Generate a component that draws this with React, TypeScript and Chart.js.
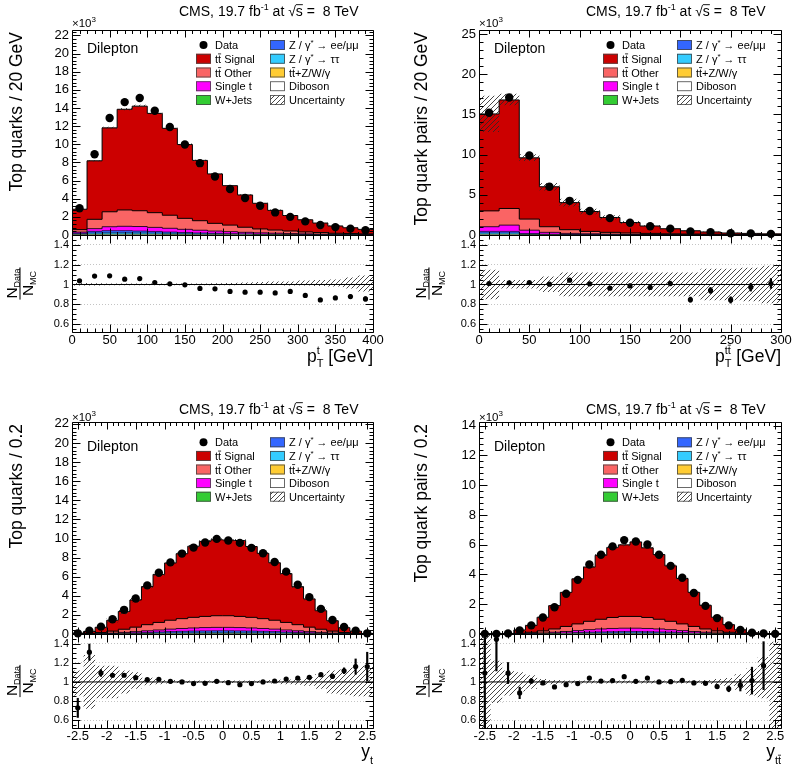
import React, { useEffect, useRef } from "react";
import { Chart, registerables } from "chart.js";
Chart.register(...registerables);

const FONT = '"Liberation Sans", Arial, Helvetica, sans-serif';
Chart.defaults.font.family = FONT;
Chart.defaults.color = "#000";

// ---------------- bins ----------------
const ptTopCenters = [10, 30, 50, 70, 90, 110, 130, 150, 170, 190, 210, 230, 250, 270, 290, 310, 330, 350, 370, 390];
const ptTtCenters = [10, 30, 50, 70, 90, 110, 130, 150, 170, 190, 210, 230, 250, 270, 290];
const rapCenters = [-2.5, -2.3, -2.1, -1.9, -1.7, -1.5, -1.3, -1.1, -0.9, -0.7, -0.5, -0.3, -0.1, 0.1, 0.3, 0.5, 0.7, 0.9, 1.1, 1.3, 1.5, 1.7, 1.9, 2.1, 2.3, 2.5];

// ---------------- top quark pT (x10^3) ----------------
const tlSignal = [2.25, 6.45, 9.25, 11.1, 11.53, 10.95, 9.58, 8.14, 6.65, 5.45, 4.35, 3.56, 2.83, 2.17, 1.71, 1.34, 1.05, 0.81, 0.64, 0.5];
const tlOther = [0.27, 1.03, 1.65, 1.8, 1.74, 1.62, 1.44, 1.21, 1.05, 0.85, 0.72, 0.56, 0.43, 0.35, 0.28, 0.21, 0.17, 0.11, 0.1, 0.07];
const tlSingleT = [0.13, 0.3, 0.43, 0.48, 0.5, 0.45, 0.41, 0.35, 0.3, 0.25, 0.22, 0.17, 0.14, 0.12, 0.1, 0.08, 0.06, 0.05, 0.035, 0.03];
const tlZll = [0.09, 0.18, 0.22, 0.22, 0.2, 0.18, 0.15, 0.12, 0.1, 0.08, 0.065, 0.055, 0.04, 0.032, 0.025, 0.02, 0.016, 0.012, 0.01, 0.008];
const tlZtt = [0.05, 0.12, 0.14, 0.14, 0.12, 0.11, 0.09, 0.08, 0.06, 0.05, 0.04, 0.035, 0.028, 0.022, 0.017, 0.014, 0.011, 0.008, 0.007, 0.005];
const tlWjets = [0.01, 0.02, 0.02, 0.02, 0.02, 0.015, 0.015, 0.01, 0.01, 0.01, 0.008, 0.006, 0.005, 0.004, 0.003, 0.002, 0.002, 0.001, 0.001, 0.001];
const tlTtv = [0.01, 0.03, 0.04, 0.04, 0.045, 0.04, 0.035, 0.03, 0.025, 0.02, 0.016, 0.013, 0.01, 0.008, 0.006, 0.005, 0.004, 0.003, 0.003, 0.002];
const tlDiboson = [0.03, 0.05, 0.06, 0.06, 0.05, 0.045, 0.04, 0.035, 0.03, 0.025, 0.02, 0.016, 0.013, 0.01, 0.008, 0.006, 0.005, 0.004, 0.003, 0.003];
const tlData = [2.95, 8.9, 12.9, 14.65, 15.1, 13.7, 11.9, 9.97, 7.92, 6.45, 5.07, 4.08, 3.23, 2.49, 2.0, 1.5, 1.11, 0.87, 0.7, 0.53];
const tlRatio = [1.037, 1.085, 1.088, 1.054, 1.06, 1.02, 1.007, 0.997, 0.96, 0.956, 0.93, 0.922, 0.922, 0.915, 0.93, 0.89, 0.844, 0.864, 0.878, 0.854];
const tlRatioErr = [0.005, 0.004, 0.004, 0.004, 0.004, 0.004, 0.004, 0.005, 0.005, 0.006, 0.007, 0.008, 0.009, 0.01, 0.011, 0.013, 0.015, 0.017, 0.02, 0.022];
const tlBandUp = [1.015, 1.012, 1.01, 1.01, 1.01, 1.01, 1.01, 1.01, 1.01, 1.012, 1.015, 1.02, 1.025, 1.03, 1.03, 1.04, 1.045, 1.05, 1.07, 1.09];
const tlBandDn = [0.99, 0.99, 0.992, 0.993, 0.993, 0.993, 0.993, 0.993, 0.993, 0.993, 0.993, 0.995, 0.995, 0.995, 0.99, 0.99, 0.985, 0.98, 0.96, 0.93];

// ---------------- ttbar pT (x10^3) ----------------
const trSignal = [12.06, 13.5, 7.62, 4.97, 3.37, 2.47, 1.85, 1.3, 0.92, 0.63, 0.41, 0.28, 0.17, 0.14, 0.09];
const trOther = [1.97, 2.07, 1.38, 0.7, 0.46, 0.3, 0.22, 0.17, 0.14, 0.1, 0.08, 0.07, 0.055, 0.04, 0.035];
const trSingleT = [0.58, 0.78, 0.42, 0.23, 0.14, 0.11, 0.08, 0.06, 0.045, 0.038, 0.03, 0.022, 0.019, 0.015, 0.011];
const trZll = [0.2, 0.2, 0.08, 0.045, 0.027, 0.018, 0.013, 0.009, 0.007, 0.005, 0.004, 0.003, 0.003, 0.002, 0.002];
const trZtt = [0.15, 0.15, 0.06, 0.03, 0.018, 0.012, 0.009, 0.006, 0.004, 0.004, 0.003, 0.003, 0.002, 0.002, 0.001];
const trWjets = [0.02, 0.02, 0.01, 0.005, 0.003, 0.002, 0.002, 0.001, 0.001, 0.001, 0.001, 0.001, 0, 0, 0];
const trTtv = [0.03, 0.03, 0.015, 0.01, 0.006, 0.004, 0.003, 0.002, 0.002, 0.001, 0.001, 0.001, 0.001, 0.001, 0.001];
const trDiboson = [0.05, 0.05, 0.015, 0.01, 0.006, 0.004, 0.003, 0.002, 0.001, 0.001, 0.001, 0, 0, 0, 0];
const trData = [15.2, 17.1, 9.88, 6.0, 4.25, 2.98, 2.1, 1.53, 1.09, 0.79, 0.45, 0.36, 0.21, 0.2, 0.14];
const trRatio = [1.01, 1.017, 1.02, 1.003, 1.044, 1.007, 0.963, 0.986, 0.97, 1.01, 0.847, 0.94, 0.844, 0.973, 1.01];
const trRatioErr = [0.006, 0.006, 0.008, 0.01, 0.012, 0.014, 0.016, 0.018, 0.02, 0.024, 0.026, 0.03, 0.032, 0.04, 0.05];
const trBandUp = [1.15, 1.045, 1.045, 1.08, 1.12, 1.12, 1.12, 1.12, 1.12, 1.12, 1.12, 1.16, 1.16, 1.17, 1.19];
const trBandDn = [0.85, 0.96, 0.96, 0.925, 0.88, 0.88, 0.88, 0.88, 0.88, 0.88, 0.88, 0.84, 0.84, 0.83, 0.81];

// ---------------- top quark rapidity (x10^3) ----------------
const blSignal = [0.076, 0.207, 0.55, 1.14, 1.86, 2.84, 3.99, 5.03, 6.0, 6.8, 7.45, 7.86, 7.96, 7.93, 7.95, 7.42, 6.84, 6.02, 5.12, 3.98, 2.96, 1.94, 1.09, 0.51, 0.24, 0.04];
const blOther = [0.01, 0.04, 0.1, 0.2, 0.33, 0.47, 0.64, 0.79, 0.93, 1.03, 1.11, 1.17, 1.22, 1.22, 1.17, 1.11, 1.03, 0.93, 0.79, 0.64, 0.47, 0.33, 0.2, 0.1, 0.04, 0.01];
const blSingleT = [0.005, 0.01, 0.025, 0.05, 0.085, 0.125, 0.17, 0.215, 0.26, 0.295, 0.325, 0.345, 0.355, 0.355, 0.345, 0.325, 0.295, 0.26, 0.215, 0.17, 0.125, 0.085, 0.05, 0.025, 0.01, 0.005];
const blZll = [0.003, 0.005, 0.013, 0.026, 0.044, 0.065, 0.088, 0.11, 0.135, 0.15, 0.165, 0.175, 0.18, 0.18, 0.175, 0.165, 0.15, 0.135, 0.11, 0.088, 0.065, 0.044, 0.026, 0.013, 0.005, 0.003];
const blZtt = [0.001, 0.003, 0.008, 0.015, 0.025, 0.037, 0.05, 0.063, 0.075, 0.085, 0.093, 0.1, 0.103, 0.103, 0.1, 0.093, 0.085, 0.075, 0.063, 0.05, 0.037, 0.025, 0.015, 0.008, 0.003, 0.001];
const blWjets = [0, 0, 0.001, 0.001, 0.002, 0.002, 0.003, 0.004, 0.004, 0.005, 0.005, 0.005, 0.006, 0.006, 0.005, 0.005, 0.005, 0.004, 0.004, 0.003, 0.002, 0.002, 0.001, 0.001, 0, 0];
const blTtv = [0.0005, 0.001, 0.002, 0.004, 0.006, 0.009, 0.012, 0.015, 0.018, 0.02, 0.022, 0.023, 0.024, 0.024, 0.023, 0.022, 0.02, 0.018, 0.015, 0.012, 0.009, 0.006, 0.004, 0.002, 0.001, 0.0005];
const blDiboson = [0.001, 0.002, 0.003, 0.005, 0.007, 0.01, 0.013, 0.016, 0.019, 0.021, 0.023, 0.024, 0.025, 0.025, 0.024, 0.023, 0.021, 0.019, 0.016, 0.013, 0.01, 0.007, 0.005, 0.003, 0.002, 0.001];
const blData = [0.07, 0.35, 0.77, 1.54, 2.53, 3.72, 5.09, 6.42, 7.5, 8.42, 9.05, 9.58, 9.96, 9.79, 9.54, 9.02, 8.46, 7.54, 6.53, 5.16, 3.86, 2.63, 1.47, 0.74, 0.35, 0.07];
const blRatio = [0.73, 1.31, 1.093, 1.07, 1.07, 1.045, 1.024, 1.028, 1.007, 1.0, 0.983, 0.986, 1.007, 0.993, 0.972, 0.983, 1.0, 1.01, 1.03, 1.04, 1.048, 1.076, 1.059, 1.117, 1.16, 1.16];
const blRatioErr = [0.1, 0.085, 0.035, 0.02, 0.015, 0.012, 0.01, 0.009, 0.008, 0.008, 0.007, 0.007, 0.007, 0.007, 0.007, 0.007, 0.008, 0.008, 0.009, 0.01, 0.012, 0.015, 0.025, 0.03, 0.08, 0.15];
const blBandUp = [1.12, 1.28, 1.17, 1.17, 1.12, 1.1, 1.045, 1.03, 1.02, 1.015, 1.015, 1.015, 1.015, 1.015, 1.015, 1.015, 1.015, 1.02, 1.025, 1.03, 1.05, 1.08, 1.12, 1.13, 1.15, 1.17];
const blBandDn = [0.86, 0.72, 0.83, 0.83, 0.88, 0.93, 0.965, 0.975, 0.985, 0.988, 0.988, 0.988, 0.988, 0.988, 0.988, 0.988, 0.988, 0.985, 0.975, 0.97, 0.96, 0.93, 0.88, 0.87, 0.85, 0.85];

// ---------------- ttbar rapidity (x10^3) ----------------
const brSignal = [0.007, 0.004, 0.027, 0.22, 0.464, 0.92, 1.57, 2.29, 3.03, 3.65, 4.3, 4.71, 4.81, 5.01, 4.68, 4.35, 3.73, 3.05, 2.29, 1.59, 0.92, 0.515, 0.23, 0.079, 0.031, 0.01];
const brOther = [0.001, 0.002, 0.006, 0.03, 0.07, 0.13, 0.22, 0.34, 0.45, 0.56, 0.65, 0.74, 0.79, 0.79, 0.74, 0.65, 0.56, 0.45, 0.34, 0.22, 0.13, 0.07, 0.03, 0.006, 0.002, 0.001];
const brSingleT = [0.0006, 0.0006, 0.0024, 0.012, 0.024, 0.042, 0.066, 0.096, 0.13, 0.17, 0.2, 0.22, 0.23, 0.23, 0.22, 0.2, 0.17, 0.13, 0.096, 0.066, 0.042, 0.024, 0.012, 0.0024, 0.0006, 0.0006];
const brZll = [0.0002, 0.0002, 0.001, 0.005, 0.009, 0.016, 0.025, 0.037, 0.05, 0.063, 0.074, 0.08, 0.085, 0.085, 0.08, 0.074, 0.063, 0.05, 0.037, 0.025, 0.016, 0.009, 0.005, 0.001, 0.0002, 0.0002];
const brZtt = [0.0001, 0.0001, 0.0005, 0.002, 0.005, 0.008, 0.013, 0.018, 0.025, 0.032, 0.037, 0.04, 0.043, 0.043, 0.04, 0.037, 0.032, 0.025, 0.018, 0.013, 0.008, 0.005, 0.002, 0.0005, 0.0001, 0.0001];
const brWjets = [0, 0, 0, 0, 0.001, 0.001, 0.002, 0.002, 0.003, 0.003, 0.003, 0.004, 0.004, 0.004, 0.004, 0.003, 0.003, 0.003, 0.002, 0.002, 0.001, 0.001, 0, 0, 0, 0];
const brTtv = [0, 0, 0, 0.001, 0.002, 0.003, 0.005, 0.007, 0.009, 0.011, 0.012, 0.013, 0.014, 0.014, 0.013, 0.012, 0.011, 0.009, 0.007, 0.005, 0.003, 0.002, 0.001, 0, 0, 0];
const brDiboson = [0, 0, 0.0005, 0.002, 0.003, 0.005, 0.007, 0.009, 0.011, 0.013, 0.014, 0.015, 0.015, 0.015, 0.015, 0.014, 0.013, 0.011, 0.009, 0.007, 0.005, 0.003, 0.002, 0.0005, 0, 0];
const brData = [0.01, 0.01, 0.04, 0.24, 0.58, 1.11, 1.8, 2.71, 3.64, 4.67, 5.33, 5.89, 6.31, 6.22, 6.02, 5.33, 4.58, 3.78, 2.76, 1.89, 1.07, 0.58, 0.27, 0.09, 0.04, 0.01];
const brRatio = [1.093, 1.445, 1.093, 0.886, 1.01, 0.99, 0.948, 0.972, 0.983, 1.041, 1.01, 1.014, 1.055, 1.007, 1.041, 1.0, 1.003, 1.017, 0.99, 0.986, 0.952, 0.928, 0.966, 1.014, 1.17, null];
const brRatioErr = [0.6, 0.33, 0.11, 0.06, 0.025, 0.018, 0.014, 0.011, 0.01, 0.009, 0.008, 0.008, 0.008, 0.008, 0.008, 0.008, 0.009, 0.01, 0.011, 0.014, 0.018, 0.03, 0.06, 0.14, 0.25, 0];
const brBandUp = [1.5, 1.22, 1.12, 1.1, 1.07, 1.03, 1.02, 1.015, 1.015, 1.015, 1.015, 1.015, 1.015, 1.015, 1.015, 1.015, 1.015, 1.015, 1.015, 1.02, 1.03, 1.04, 1.08, 1.14, 1.26, 1.42];
const brBandDn = [0.5, 0.78, 0.86, 0.9, 0.93, 0.97, 0.975, 0.985, 0.985, 0.985, 0.985, 0.985, 0.985, 0.985, 0.985, 0.985, 0.985, 0.985, 0.985, 0.98, 0.97, 0.96, 0.92, 0.86, 0.83, 0.5];

// stacking order bottom -> top: Diboson, W+Jets, tt+Z/W/γ, Z→ττ, Z→ee/μμ, Single t, tt Other, tt Signal
const STACK_COLORS = ["#ffffff", "#33cc33", "#ffcc33", "#33ccff", "#3366ff", "#ff00ff", "#fa6464", "#cc0000"];
const STACK_LINES = ["rgba(0,0,0,0.35)", "rgba(0,0,0,0.35)", "rgba(0,0,0,0.35)", "rgba(0,0,0,0.45)", "rgba(0,0,0,0.6)", "rgba(0,0,0,0.8)", "#000", "#000"];

type Run = { t: string; s?: number; dy?: number; barLast?: boolean; keep?: boolean };

const PANELS: any[] = [
  {
    centers: ptTopCenters, width: 20,
    comps: [tlDiboson, tlWjets, tlTtv, tlZtt, tlZll, tlSingleT, tlOther, tlSignal],
    data: tlData, ratio: tlRatio, ratioErr: tlRatioErr, bandUp: tlBandUp, bandDn: tlBandDn,
    xmin: 0, xmax: 400, xMajor: 50, xMinor: 10, ymax: 22.6, yMajor: 2, yMinor: 0.4,
    frameL: 72, frameR: 373, mainTop: 30, mainBot: 235, ratioBot: 332,
    titleBase: 16, x3Base: 27, dilBase: 53, legRow0: 45, legStep: 13.75,
    yTitle: "Top quarks / 20 GeV", yTitleX: 22, ratioTitleX: 20, xTitleBase: 362,
    xTitle: [{ t: "p" }, { t: "t", s: 11, dy: -8, keep: true }, { t: "T", s: 11, dy: 5 }, { t: " [GeV]" }],
  },
  {
    centers: ptTtCenters, width: 20,
    comps: [trDiboson, trWjets, trTtv, trZtt, trZll, trSingleT, trOther, trSignal],
    data: trData, ratio: trRatio, ratioErr: trRatioErr, bandUp: trBandUp, bandDn: trBandDn,
    xmin: 0, xmax: 300, xMajor: 50, xMinor: 10, ymax: 25.5, yMajor: 5, yMinor: 1,
    frameL: 479, frameR: 781, mainTop: 30, mainBot: 235, ratioBot: 332,
    titleBase: 16, x3Base: 27, dilBase: 53, legRow0: 45, legStep: 13.75,
    yTitle: "Top quark pairs / 20 GeV", yTitleX: 427, ratioTitleX: 429, xTitleBase: 362,
    xTitle: [{ t: "p" }, { t: "tt", s: 11, dy: -8, keep: true, barLast: true }, { t: "T", s: 11, dy: 5 }, { t: " [GeV]" }],
  },
  {
    centers: rapCenters, width: 0.2,
    comps: [blDiboson, blWjets, blTtv, blZtt, blZll, blSingleT, blOther, blSignal],
    data: blData, ratio: blRatio, ratioErr: blRatioErr, bandUp: blBandUp, bandDn: blBandDn,
    xmin: -2.6, xmax: 2.6, xMajor: 0.5, xMinor: 0.1, ymax: 22.2, yMajor: 2, yMinor: 0.4,
    frameL: 72, frameR: 373, mainTop: 422, mainBot: 634, ratioBot: 728,
    titleBase: 414, x3Base: 421, dilBase: 451, legRow0: 442.3, legStep: 13.6,
    yTitle: "Top quarks / 0.2", yTitleX: 22, ratioTitleX: 20, xTitleBase: 757,
    xTitle: [{ t: "y" }, { t: "t", s: 11, dy: 7 }],
  },
  {
    centers: rapCenters, width: 0.2,
    comps: [brDiboson, brWjets, brTtv, brZtt, brZll, brSingleT, brOther, brSignal],
    data: brData, ratio: brRatio, ratioErr: brRatioErr, bandUp: brBandUp, bandDn: brBandDn,
    xmin: -2.6, xmax: 2.6, xMajor: 0.5, xMinor: 0.1, ymax: 14.25, yMajor: 2, yMinor: 0.4,
    frameL: 479, frameR: 781, mainTop: 422, mainBot: 634, ratioBot: 728,
    titleBase: 414, x3Base: 421, dilBase: 451, legRow0: 442.3, legStep: 13.6,
    yTitle: "Top quark pairs / 0.2", yTitleX: 427, ratioTitleX: 429, xTitleBase: 757,
    xTitle: [{ t: "y" }, { t: "tt", s: 11, dy: 7, barLast: true }],
  },
];

const RATIO_MIN = 0.52;
const RATIO_MAX = 1.5;

// ---------------- helpers ----------------
function makeHatch(): any {
  const c = document.createElement("canvas");
  c.width = 5;
  c.height = 5;
  const g = c.getContext("2d")!;
  g.strokeStyle = "rgba(40,40,40,0.95)";
  g.lineWidth = 0.9;
  g.beginPath();
  g.moveTo(0, 5);
  g.lineTo(5, 0);
  g.moveTo(-1, 1);
  g.lineTo(1, -1);
  g.moveTo(4, 6);
  g.lineTo(6, 4);
  g.stroke();
  return g.createPattern(c, "repeat");
}

function measureRuns(ctx: CanvasRenderingContext2D, runs: Run[], def: number) {
  let w = 0;
  let pend = 0;
  for (const r of runs) {
    ctx.font = `${r.s || def}px ${FONT}`;
    const rw = ctx.measureText(r.t).width;
    if (r.keep) pend = Math.max(pend, rw);
    else {
      w += Math.max(rw, pend);
      pend = 0;
    }
  }
  return w + pend;
}

function drawRuns(ctx: CanvasRenderingContext2D, x: number, y: number, runs: Run[], def: number, align = "left") {
  const total = measureRuns(ctx, runs, def);
  let cx = align === "right" ? x - total : align === "center" ? x - total / 2 : x;
  let pend = 0;
  ctx.textAlign = "left";
  ctx.textBaseline = "alphabetic";
  for (const r of runs) {
    const s = r.s || def;
    ctx.font = `${s}px ${FONT}`;
    const rw = ctx.measureText(r.t).width;
    const by = y + (r.dy || 0);
    ctx.fillText(r.t, cx, by);
    if (r.barLast) {
      const w0 = ctx.measureText(r.t.slice(0, -1)).width;
      ctx.fillRect(cx + w0, by - s * 0.84, rw - w0, Math.max(0.8, s * 0.065));
    }
    if (r.keep) pend = Math.max(pend, rw);
    else {
      cx += Math.max(rw, pend);
      pend = 0;
    }
  }
}

function tickValues(min: number, max: number, step: number) {
  const out: number[] = [];
  const n0 = Math.ceil(min / step - 1e-6);
  const n1 = Math.floor(max / step + 1e-6);
  for (let n = n0; n <= n1; n++) out.push(n * step);
  return out;
}
const isMajor = (v: number, major: number) => Math.abs(v / major - Math.round(v / major)) < 1e-6;

function drawFrameTicks(chart: any, xs: any, ys: any, xLen: number, yLen: number) {
  const ctx: CanvasRenderingContext2D = chart.ctx;
  const a = chart.chartArea;
  const X = chart.scales.x;
  const Y = chart.scales.y;
  const L = Math.round(a.left) + 0.5;
  const R = Math.round(a.right) + 0.5;
  const T = Math.round(a.top) + 0.5;
  const B = Math.round(a.bottom) + 0.5;
  ctx.save();
  ctx.strokeStyle = "#000";
  ctx.lineWidth = 1;
  ctx.beginPath();
  ctx.rect(L, T, R - L, B - T);
  for (const v of tickValues(xs.min, xs.max, xs.minor)) {
    const px = Math.round(X.getPixelForValue(v)) + 0.5;
    const len = isMajor(v, xs.major) ? xLen : xLen / 2;
    ctx.moveTo(px, B);
    ctx.lineTo(px, B - len);
    ctx.moveTo(px, T);
    ctx.lineTo(px, T + len);
  }
  for (const v of tickValues(ys.min, ys.max, ys.minor)) {
    const py = Math.round(Y.getPixelForValue(v)) + 0.5;
    const len = isMajor(v, ys.major) ? yLen : yLen / 2;
    ctx.moveTo(L, py);
    ctx.lineTo(L + len, py);
    ctx.moveTo(R, py);
    ctx.lineTo(R - len, py);
  }
  ctx.stroke();
  ctx.restore();
}

const LEG_FONT = 11;
const LEGEND_LEFT: any[] = [
  { kind: "data", runs: [{ t: "Data" }] },
  { kind: "box", color: "#cc0000", runs: [{ t: "tt", barLast: true }, { t: " Signal" }] },
  { kind: "box", color: "#fa6464", runs: [{ t: "tt", barLast: true }, { t: " Other" }] },
  { kind: "box", color: "#ff00ff", runs: [{ t: "Single t" }] },
  { kind: "box", color: "#33cc33", runs: [{ t: "W+Jets" }] },
];
const LEGEND_RIGHT: any[] = [
  { kind: "box", color: "#3366ff", runs: [{ t: "Z / γ" }, { t: "*", s: 8, dy: -4 }, { t: " → ee/μμ" }] },
  { kind: "box", color: "#33ccff", runs: [{ t: "Z / γ" }, { t: "*", s: 8, dy: -4 }, { t: " → ττ" }] },
  { kind: "box", color: "#ffcc33", runs: [{ t: "tt", barLast: true }, { t: "+Z/W/γ" }] },
  { kind: "box", color: "#ffffff", runs: [{ t: "Diboson" }] },
  { kind: "hatch", runs: [{ t: "Uncertainty" }] },
];

const TITLE_RUNS: Run[] = [
  { t: "CMS, 19.7 fb" },
  { t: "-1", s: 9, dy: -6 },
  { t: " at " },
  { t: "√s", barLast: true },
  { t: " =  8 TeV" },
];

function drawMainDeco(chart: any, p: any, hatch: any) {
  const ctx: CanvasRenderingContext2D = chart.ctx;
  drawFrameTicks(
    chart,
    { min: p.xmin, max: p.xmax, major: p.xMajor, minor: p.xMinor },
    { min: 0, max: p.ymax, major: p.yMajor, minor: p.yMinor },
    7,
    8
  );
  ctx.save();
  ctx.fillStyle = "#000";
  drawRuns(ctx, p.frameL + 107, p.titleBase, TITLE_RUNS, 14);
  drawRuns(ctx, p.frameL, p.x3Base, [{ t: "×10" }, { t: "3", s: 8, dy: -5 }], 11.5);
  drawRuns(ctx, p.frameL + 15, p.dilBase, [{ t: "Dilepton" }], 14);
  // y title
  ctx.save();
  ctx.translate(p.yTitleX, p.mainTop + 2);
  ctx.rotate(-Math.PI / 2);
  ctx.font = `17.5px ${FONT}`;
  ctx.textAlign = "right";
  ctx.textBaseline = "alphabetic";
  ctx.fillText(p.yTitle, 0, 0);
  ctx.restore();
  // legend
  const cols = [
    { items: LEGEND_LEFT, box: p.frameL + 124, text: p.frameL + 143 },
    { items: LEGEND_RIGHT, box: p.frameL + 198, text: p.frameL + 217 },
  ];
  for (const col of cols) {
    col.items.forEach((it: any, i: number) => {
      const cy = p.legRow0 + i * p.legStep;
      if (it.kind === "data") {
        ctx.beginPath();
        ctx.arc(col.box + 7.5, cy, 4, 0, Math.PI * 2);
        ctx.fillStyle = "#000";
        ctx.fill();
      } else {
        ctx.fillStyle = it.kind === "hatch" ? hatch : it.color;
        ctx.fillRect(col.box, cy - 5, 15, 10);
        ctx.strokeStyle = "#444";
        ctx.lineWidth = 0.8;
        ctx.strokeRect(col.box + 0.5, cy - 4.5, 14, 9);
      }
      ctx.fillStyle = "#000";
      drawRuns(ctx, col.text, cy + 4, it.runs, LEG_FONT);
    });
  }
  ctx.restore();
}

function drawRatioDeco(chart: any, p: any) {
  const ctx: CanvasRenderingContext2D = chart.ctx;
  drawFrameTicks(
    chart,
    { min: p.xmin, max: p.xmax, major: p.xMajor, minor: p.xMinor },
    { min: RATIO_MIN, max: RATIO_MAX, major: 0.2, minor: 0.05 },
    8,
    8
  );
  ctx.save();
  ctx.fillStyle = "#000";
  // ratio title N_Data / N_MC
  const cy = (p.mainBot + p.ratioBot) / 2;
  ctx.translate(p.ratioTitleX, cy);
  ctx.rotate(-Math.PI / 2);
  const num: Run[] = [{ t: "N" }, { t: "Data", s: 9, dy: 3 }];
  const den: Run[] = [{ t: "N" }, { t: "MC", s: 9, dy: 3 }];
  const w1 = measureRuns(ctx, num, 15.5);
  const w2 = measureRuns(ctx, den, 15.5);
  const w = Math.max(w1, w2) + 2;
  drawRuns(ctx, 0, -3, num, 15.5, "center");
  ctx.fillRect(-w / 2, -0.5, w, 1);
  drawRuns(ctx, 0, 13, den, 15.5, "center");
  ctx.restore();
  ctx.save();
  ctx.fillStyle = "#000";
  drawRuns(ctx, p.frameR, p.xTitleBase, p.xTitle, 17.5, "right");
  ctx.restore();
}

function edgePoints(p: any, vals: number[]) {
  const half = p.width / 2;
  const pts = p.centers.map((c: number, i: number) => ({ x: c - half, y: vals[i] }));
  pts.push({ x: p.centers[p.centers.length - 1] + half, y: vals[vals.length - 1] });
  return pts;
}

const baseOpts = {
  responsive: false,
  animation: false,
  devicePixelRatio: 1,
  events: [],
  plugins: { legend: { display: false }, tooltip: { enabled: false } },
};

function makeMain(canvas: HTMLCanvasElement, p: any, hatch: any) {
  const cum: number[][] = [];
  let run = p.centers.map(() => 0);
  for (const comp of p.comps) {
    run = run.map((v: number, i: number) => v + comp[i]);
    cum.push(run);
  }
  const total = cum[cum.length - 1];
  const datasets: any[] = [];
  datasets.push({
    type: "line",
    data: p.centers.map((c: number, i: number) => ({ x: c, y: p.data[i] })),
    showLine: false,
    pointRadius: 4.2,
    pointBackgroundColor: "#000",
    pointBorderWidth: 0,
    clip: false,
  });
  datasets.push({
    type: "line",
    data: edgePoints(p, total.map((v: number, i: number) => v * p.bandUp[i])),
    stepped: true,
    borderWidth: 0,
    pointRadius: 0,
    fill: "+1",
    backgroundColor: hatch,
  });
  datasets.push({
    type: "line",
    data: edgePoints(p, total.map((v: number, i: number) => v * p.bandDn[i])),
    stepped: true,
    borderWidth: 0,
    pointRadius: 0,
    fill: false,
  });
  cum.forEach((lvl, k) => {
    datasets.push({
      type: "line",
      data: edgePoints(p, lvl),
      stepped: true,
      borderColor: STACK_LINES[k],
      borderWidth: 1,
      pointRadius: 0,
      fill: "origin",
      backgroundColor: STACK_COLORS[k],
    });
  });
  return new Chart(canvas, {
    type: "line",
    data: { datasets },
    options: {
      ...baseOpts,
      layout: { padding: { left: p.frameL - 40, right: 793 - p.frameR, top: p.mainTop, bottom: 772 - p.mainBot } },
      scales: {
        x: { type: "linear", min: p.xmin, max: p.xmax, display: false },
        y: {
          type: "linear",
          min: 0,
          max: p.ymax,
          afterFit: (s: any) => {
            s.width = 40;
          },
          grid: { display: false, drawTicks: false },
          border: { display: false },
          ticks: {
            stepSize: p.yMajor,
            includeBounds: false,
            maxTicksLimit: 100,
            autoSkip: false,
            padding: 3,
            color: "#000",
            font: { size: 13, family: FONT },
            callback: (v: any) => String(Math.round(v * 1000) / 1000),
          },
        },
      },
    } as any,
    plugins: [{ id: "deco", afterDraw: (c: any) => drawMainDeco(c, p, hatch) }],
  } as any);
}

function makeRatio(canvas: HTMLCanvasElement, p: any, hatch: any) {
  const errData: any[] = [];
  p.centers.forEach((c: number, i: number) => {
    const r = p.ratio[i];
    if (r !== null && r !== undefined) errData.push({ x: c, y: [r - p.ratioErr[i], r + p.ratioErr[i]] });
  });
  const datasets: any[] = [
    {
      type: "line",
      data: p.centers.map((c: number, i: number) => ({ x: c, y: p.ratio[i] })),
      showLine: false,
      pointRadius: 2.6,
      pointBackgroundColor: "#000",
      pointBorderWidth: 0,
    },
    {
      type: "bar",
      data: errData,
      backgroundColor: "#000",
      borderWidth: 0,
      barThickness: 1.5,
    },
    {
      type: "line",
      data: [
        { x: p.xmin, y: 1 },
        { x: p.xmax, y: 1 },
      ],
      borderColor: "#000",
      borderWidth: 1,
      pointRadius: 0,
      fill: false,
    },
    {
      type: "line",
      data: edgePoints(p, p.bandUp),
      stepped: true,
      borderWidth: 0,
      pointRadius: 0,
      fill: "+1",
      backgroundColor: hatch,
    },
    {
      type: "line",
      data: edgePoints(p, p.bandDn),
      stepped: true,
      borderWidth: 0,
      pointRadius: 0,
      fill: false,
    },
  ];
  return new Chart(canvas, {
    type: "line",
    data: { datasets },
    options: {
      ...baseOpts,
      layout: { padding: { left: p.frameL - 40, right: 793 - p.frameR, top: p.mainBot, bottom: 772 - p.ratioBot - 20 } },
      scales: {
        x: {
          type: "linear",
          min: p.xmin,
          max: p.xmax,
          offset: false,
          afterFit: (s: any) => {
            s.height = 20;
          },
          grid: { display: false, drawTicks: false, offset: false },
          border: { display: false },
          ticks: {
            stepSize: p.xMajor,
            includeBounds: false,
            maxTicksLimit: 100,
            autoSkip: false,
            maxRotation: 0,
            padding: 1,
            color: "#000",
            font: { size: 13, family: FONT },
            callback: (v: any) => String(Math.round(v * 1000) / 1000),
          },
        },
        y: {
          type: "linear",
          min: RATIO_MIN,
          max: RATIO_MAX,
          afterFit: (s: any) => {
            s.width = 40;
          },
          grid: { display: true, drawTicks: false, color: "#c4c4c4", lineWidth: 1 },
          border: { display: false, dash: [1, 2] },
          ticks: {
            stepSize: 0.2,
            includeBounds: false,
            maxTicksLimit: 100,
            autoSkip: false,
            padding: 3,
            color: "#000",
            font: { size: 11, family: FONT },
            callback: (v: any) => String(Math.round(v * 1000) / 1000),
          },
        },
      },
    } as any,
    plugins: [{ id: "deco", afterDraw: (c: any) => drawRatioDeco(c, p) }],
  } as any);
}

export default function App() {
  const refs = useRef<(HTMLCanvasElement | null)[]>([]);
  useEffect(() => {
    const hatch = makeHatch();
    const charts: any[] = [];
    PANELS.forEach((p, i) => {
      const m = refs.current[2 * i];
      const r = refs.current[2 * i + 1];
      if (m) charts.push(makeMain(m, p, hatch));
      if (r) charts.push(makeRatio(r, p, hatch));
    });
    return () => charts.forEach((c) => c.destroy());
  }, []);
  return (
    <div style={{ position: "absolute", left: 0, top: 0, width: 793, height: 772, background: "#fff", overflow: "hidden" }}>
      {Array.from({ length: 8 }).map((_, i) => (
        <canvas
          key={i}
          ref={(el) => {
            refs.current[i] = el;
          }}
          width={793}
          height={772}
          style={{ position: "absolute", left: 0, top: 0, width: 793, height: 772 }}
        />
      ))}
    </div>
  );
}
